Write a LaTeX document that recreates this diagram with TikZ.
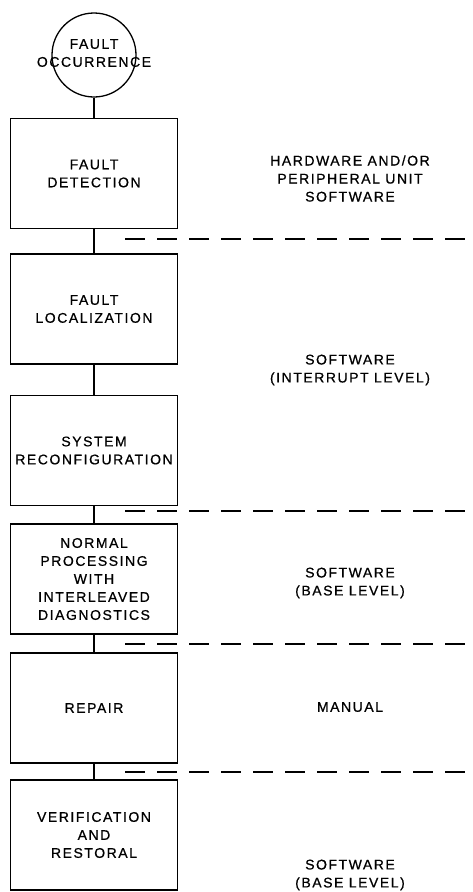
\documentclass[tikz,border=0pt]{standalone}
\usepackage{fontspec}
\newfontfamily\flowfont[LetterSpace=11,FakeBold=0.7]{Liberation Sans}
\begin{document}
\begin{tikzpicture}[x=1pt,y=-1pt,
    every node/.style={font=\flowfont\fontsize{14}{18}\selectfont,align=center},
    stage/.style={draw,line width=1.8pt,minimum width=167pt,minimum height=110pt,inner sep=0pt},
    link/.style={line width=2.2pt},
    level/.style={line width=2pt,dash pattern=on 20pt off 12pt}]
  \useasboundingbox (0,0) rectangle (472,892);
  % left column: the stages
  \node [circle,draw,line width=1.3pt,minimum size=84pt,inner sep=0pt] (occur) at (94,55) {};
  \node (occurtext) at (94,53) {FAULT\\OCCURRENCE};
  \node [stage] (detect) at (94,173.5) {FAULT\\DETECTION};
  \node [stage] (local) at (94,309) {FAULT\\LOCALIZATION};
  \node [stage] (reconf) at (94,450.5) {SYSTEM\\RECONFIGURATION};
  \node [stage] (normal) at (94,579) {NORMAL\\PROCESSING\\WITH\\INTERLEAVED\\DIAGNOSTICS};
  \node [stage] (repair) at (94,708) {REPAIR};
  \node [stage] (verify) at (94,835) {VERIFICATION\\AND\\RESTORAL};
  \draw [link] (occur) -- (detect);
  \draw [link] (detect) -- (local);
  \draw [link] (local) -- (reconf);
  \draw [link] (reconf) -- (normal);
  \draw [link] (normal) -- (repair);
  \draw [link] (repair) -- (verify);
  % right column: who does it
  \node (hwsw) at (350,178.5) {HARDWARE AND/OR\\PERIPHERAL UNIT\\SOFTWARE};
  \node (intsw) at (350,370) {SOFTWARE\\(INTERRUPT LEVEL)};
  \node (basesw) at (350,583) {SOFTWARE\\(BASE LEVEL)};
  \node (manual) at (350,707) {MANUAL};
  \node (restsw) at (350,875) {SOFTWARE\\(BASE LEVEL)};
  \foreach \y in {239,511,644,772}
    \draw [level] (125,\y) -- (472,\y);
\end{tikzpicture}
\end{document}
